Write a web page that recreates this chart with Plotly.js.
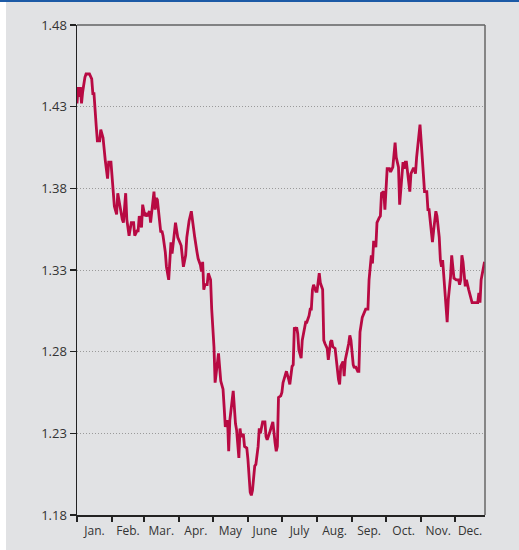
<!DOCTYPE html>
<html>
<head>
<meta charset="utf-8">
<script src="https://cdn.plot.ly/plotly-3.0.1.min.js"></script>
<style>
  html, body { margin: 0; padding: 0; background: #ffffff; }
  #topline { position: absolute; left: 0; top: 0; width: 519px; height: 2px; background: #1c5aa6; }
  #chart { position: absolute; left: 6px; top: 2px; width: 513px; height: 548px; }
</style>
</head>
<body>
<div id="topline"></div>
<div id="chart"></div>
<script>
// Daily exchange-rate series
const dates = [
  '2010-01-01','2010-01-02','2010-01-03','2010-01-04','2010-01-05','2010-01-06','2010-01-08','2010-01-09',
  '2010-01-12','2010-01-14','2010-01-15','2010-01-16','2010-01-18','2010-01-19','2010-01-21','2010-01-22',
  '2010-01-24','2010-01-25','2010-01-26','2010-01-28','2010-01-29','2010-01-31','2010-02-01','2010-02-02',
  '2010-02-03','2010-02-05','2010-02-06','2010-02-07','2010-02-08','2010-02-10','2010-02-11','2010-02-13',
  '2010-02-14','2010-02-16','2010-02-18','2010-02-20','2010-02-21','2010-02-23','2010-02-24','2010-02-25',
  '2010-02-27','2010-02-28','2010-03-02','2010-03-03','2010-03-04','2010-03-06','2010-03-07','2010-03-08',
  '2010-03-10','2010-03-11','2010-03-12','2010-03-13','2010-03-14','2010-03-16','2010-03-17','2010-03-18',
  '2010-03-20','2010-03-21','2010-03-23','2010-03-24','2010-03-25','2010-03-26','2010-03-27','2010-03-29',
  '2010-03-31','2010-04-03','2010-04-05','2010-04-07','2010-04-08','2010-04-10','2010-04-12','2010-04-14',
  '2010-04-15','2010-04-17','2010-04-18','2010-04-20','2010-04-21','2010-04-22','2010-04-23','2010-04-24',
  '2010-04-26','2010-04-27','2010-04-29','2010-04-30','2010-05-02','2010-05-03','2010-05-05','2010-05-06',
  '2010-05-08','2010-05-10','2010-05-11','2010-05-12','2010-05-14','2010-05-15','2010-05-16','2010-05-18',
  '2010-05-19','2010-05-21','2010-05-22','2010-05-24','2010-05-25','2010-05-26','2010-05-27','2010-05-28',
  '2010-05-29','2010-05-31','2010-06-01','2010-06-03','2010-06-04','2010-06-05','2010-06-07','2010-06-08',
  '2010-06-10','2010-06-11','2010-06-12','2010-06-14','2010-06-16','2010-06-17','2010-06-18','2010-06-20',
  '2010-06-22','2010-06-23','2010-06-25','2010-06-26','2010-06-27','2010-06-28','2010-06-30','2010-07-01',
  '2010-07-02','2010-07-04','2010-07-05','2010-07-07','2010-07-08','2010-07-10','2010-07-11','2010-07-12',
  '2010-07-13','2010-07-14','2010-07-15','2010-07-16','2010-07-18','2010-07-19','2010-07-21','2010-07-22',
  '2010-07-23','2010-07-25','2010-07-26','2010-07-27','2010-07-28','2010-07-29','2010-07-31','2010-08-01',
  '2010-08-03','2010-08-04','2010-08-06','2010-08-07','2010-08-08','2010-08-10','2010-08-11','2010-08-13',
  '2010-08-14','2010-08-15','2010-08-17','2010-08-18','2010-08-20','2010-08-21','2010-08-22','2010-08-24',
  '2010-08-25','2010-08-26','2010-08-27','2010-08-29','2010-08-30','2010-08-31','2010-09-02','2010-09-03',
  '2010-09-04','2010-09-06','2010-09-07','2010-09-08','2010-09-10','2010-09-12','2010-09-13','2010-09-15',
  '2010-09-16','2010-09-18','2010-09-19','2010-09-20','2010-09-21','2010-09-22','2010-09-23','2010-09-25',
  '2010-09-26','2010-09-27','2010-09-29','2010-09-30','2010-10-01','2010-10-02','2010-10-04','2010-10-05',
  '2010-10-07','2010-10-08','2010-10-09','2010-10-10','2010-10-12','2010-10-13','2010-10-15','2010-10-16',
  '2010-10-17','2010-10-18','2010-10-19','2010-10-20','2010-10-22','2010-10-23','2010-10-25','2010-10-26',
  '2010-10-27','2010-10-28','2010-10-30','2010-10-31','2010-11-01','2010-11-03','2010-11-04','2010-11-06',
  '2010-11-07','2010-11-08','2010-11-09','2010-11-11','2010-11-12','2010-11-14','2010-11-15','2010-11-17',
  '2010-11-18','2010-11-19','2010-11-20','2010-11-21','2010-11-22','2010-11-24','2010-11-25','2010-11-27',
  '2010-11-28','2010-11-30','2010-12-02','2010-12-04','2010-12-05','2010-12-06','2010-12-07','2010-12-08',
  '2010-12-10','2010-12-11','2010-12-13','2010-12-14','2010-12-16','2010-12-18','2010-12-21','2010-12-22',
  '2010-12-23','2010-12-24','2010-12-25','2010-12-27'
];
const rates = [
  1.432,1.442,1.436,1.442,1.432,1.439,1.448,1.450,
  1.450,1.447,1.438,1.438,1.418,1.409,1.409,1.416,
  1.411,1.403,1.397,1.386,1.396,1.396,1.387,1.377,
  1.369,1.364,1.377,1.373,1.368,1.361,1.359,1.377,
  1.361,1.351,1.359,1.359,1.351,1.354,1.354,1.363,
  1.356,1.370,1.363,1.364,1.363,1.366,1.359,1.367,
  1.378,1.367,1.374,1.373,1.365,1.353,1.354,1.351,
  1.341,1.332,1.324,1.336,1.347,1.340,1.348,1.359,
  1.350,1.345,1.332,1.339,1.350,1.360,1.366,1.354,
  1.350,1.341,1.337,1.333,1.329,1.335,1.318,1.321,
  1.321,1.328,1.324,1.306,1.283,1.261,1.275,1.279,
  1.262,1.257,1.246,1.234,1.238,1.219,1.238,1.249,
  1.256,1.236,1.232,1.215,1.233,1.228,1.229,1.229,
  1.222,1.221,1.214,1.194,1.192,1.195,1.210,1.211,
  1.222,1.233,1.230,1.237,1.237,1.228,1.226,1.230,
  1.236,1.237,1.224,1.219,1.222,1.252,1.253,1.255,
  1.261,1.265,1.268,1.263,1.260,1.271,1.272,1.295,
  1.293,1.295,1.291,1.281,1.276,1.287,1.295,1.298,
  1.298,1.302,1.306,1.306,1.318,1.321,1.317,1.317,
  1.328,1.322,1.318,1.287,1.285,1.282,1.275,1.286,
  1.287,1.283,1.282,1.274,1.263,1.260,1.271,1.274,
  1.265,1.275,1.278,1.285,1.290,1.287,1.272,1.270,
  1.271,1.268,1.268,1.292,1.301,1.304,1.306,1.306,
  1.324,1.339,1.334,1.347,1.347,1.344,1.359,1.362,
  1.363,1.377,1.378,1.367,1.381,1.392,1.392,1.390,
  1.393,1.399,1.408,1.399,1.393,1.370,1.389,1.396,
  1.392,1.396,1.396,1.389,1.378,1.389,1.392,1.392,
  1.389,1.399,1.410,1.419,1.409,1.392,1.378,1.378,
  1.367,1.367,1.361,1.347,1.354,1.366,1.363,1.350,
  1.336,1.332,1.336,1.326,1.312,1.298,1.312,1.326,
  1.339,1.325,1.324,1.324,1.321,1.324,1.339,1.335,
  1.320,1.324,1.318,1.315,1.310,1.310,1.310,1.316,
  1.310,1.324,1.328,1.335
];
const monthStarts = ['2010-01-01','2010-02-01','2010-03-01','2010-04-01','2010-05-01','2010-06-01',
                     '2010-07-01','2010-08-01','2010-09-01','2010-10-01','2010-11-01','2010-12-01'];
const monthLabels = ['Jan.','Feb.','Mar.','Apr.','May','June','July','Aug.','Sep.','Oct.','Nov.','Dec.'];
const yTicks = [1.18, 1.23, 1.28, 1.33, 1.38, 1.43, 1.48];
const xRange = ['2010-01-01', '2010-12-27 10:00'];

// label positions: centre of each month period within the axis range
const toMs = s => new Date(s.replace(' ', 'T') + (s.length > 10 ? ':00Z' : 'T00:00:00Z')).getTime();
const ends = monthStarts.slice(1).concat([xRange[1]]);
const mids = monthStarts.map((s, i) => new Date((toMs(s) + toMs(ends[i])) / 2).toISOString());

const fontFam = '"Open Sans", "Liberation Sans", Arial, sans-serif';

const trace = {
  x: dates, y: rates, type: 'scatter', mode: 'lines',
  line: { color: '#b80a43', width: 2.8 },
  hoverinfo: 'x+y'
};
const dummy = { x: [xRange[0]], y: [1.3], xaxis: 'x2', type: 'scatter', mode: 'none', showlegend: false, hoverinfo: 'skip' };

const layout = {
  width: 513, height: 548,
  margin: { l: 71, r: 34, t: 23, b: 35 },
  paper_bgcolor: '#e1e2e4',
  plot_bgcolor: '#e1e2e4',
  showlegend: false,
  font: { family: fontFam, size: 12, color: '#333333' },
  xaxis: {
    type: 'date', range: xRange,
    tickmode: 'array', tickvals: monthStarts, ticktext: monthStarts.map(() => ''),
    ticks: 'outside', ticklen: 5, tickwidth: 1.5, tickcolor: '#222',
    showgrid: false, zeroline: false,
    showline: true, linecolor: '#222', linewidth: 2
  },
  xaxis2: {
    type: 'date', matches: 'x', overlaying: 'x', anchor: 'y', side: 'bottom',
    tickmode: 'array', tickvals: mids, ticktext: monthLabels,
    ticks: 'outside', ticklen: 5, tickcolor: 'rgba(0,0,0,0)',
    showgrid: false, zeroline: false, showline: false,
    tickfont: { family: fontFam, size: 12, color: '#333333' }
  },
  yaxis: {
    range: [1.18, 1.48],
    tickmode: 'array', tickvals: yTicks, ticktext: yTicks.map(v => v.toFixed(2)),
    ticks: 'outside', ticklen: 6, tickwidth: 1.2, tickcolor: '#222',
    showgrid: true, gridcolor: '#9a9a9a', griddash: '1px,2px', gridwidth: 1,
    zeroline: false, showline: true, linecolor: '#222', linewidth: 1.5,
    tickfont: { family: fontFam, size: 13, color: '#333333' }
  },
  shapes: [
    { type: 'line', xref: 'paper', yref: 'paper', x0: 0, x1: 1, y0: 1, y1: 1, line: { color: '#222', width: 1.2 } },
    { type: 'line', xref: 'paper', yref: 'paper', x0: 1, x1: 1, y0: 0, y1: 1, line: { color: '#666', width: 1.5 } }
  ]
};

Plotly.newPlot('chart', [trace, dummy], layout, { displayModeBar: false, staticPlot: true });
</script>
</body>
</html>
